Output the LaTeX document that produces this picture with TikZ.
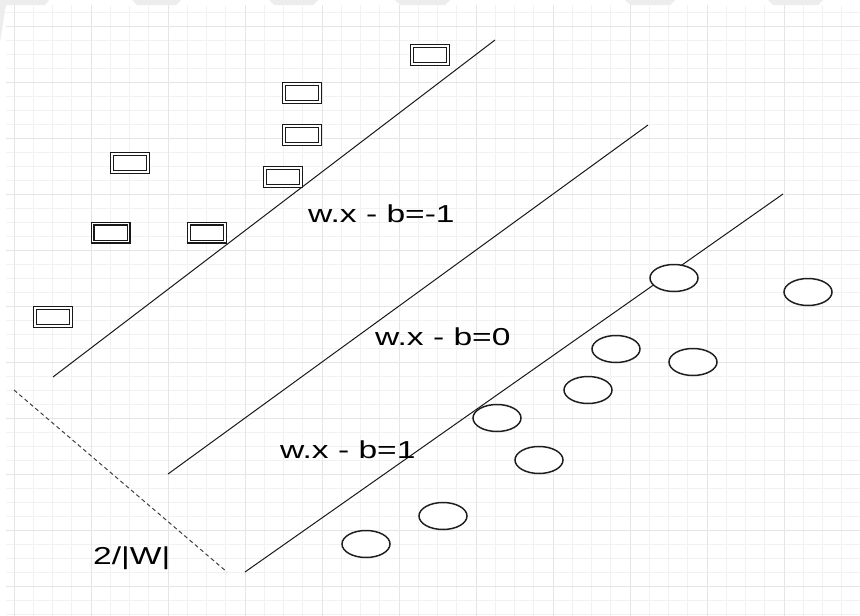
\documentclass[tikz,border=0pt]{standalone}
\usepackage{fontspec}
\setmainfont{Liberation Sans}
\usepackage{graphicx}
\usetikzlibrary{shapes.geometric}
\begin{document}
\begin{tikzpicture}[x=1pt,y=-1pt,
  sqbox/.style={draw=black!90, fill=white, line width=1.35pt, double=white, double distance=1.3pt, minimum width=36pt, minimum height=18pt, inner sep=0pt},
  ovalpt/.style={ellipse, draw=black!88, fill=white, line width=1.5pt, minimum width=48pt, minimum height=27pt, inner sep=0pt},
  sepline/.style={draw=black!90, line width=1pt},
  marginline/.style={draw=black!75, line width=1pt, dash pattern=on 4pt off 3pt},
  lbl/.style={inner sep=0pt, anchor=base west, font=\fontsize{24.5}{29}\selectfont, text=black},
  minorgrid/.style={draw=black!5, line width=0.8pt},
  majorgrid/.style={draw=black!10, line width=1pt},
  tabshape/.style={fill=black!7}]

\useasboundingbox (0,0) rectangle (860,616);
\fill[white] (0,0) rectangle (860,616);

% top chrome tabs
\foreach \a/\b in {132/181, 269/318, 395/450, 625/675, 768/823}
  \fill[tabshape] (\a,0) -- (\b,0) -- (\b-5,5) -- (\a+5,5) -- cycle;
\fill[tabshape] (0,0) -- (49,0) -- (45,5) -- (6,5) -- (0,42) -- cycle;

% background grid
\foreach \i in {0,...,43}
  \draw[minorgrid] ({14+19.25*\i},5) -- ({14+19.25*\i},616);
\foreach \j in {0,...,43}
  \draw[minorgrid] (6,{12+14*\j}) -- (860,{12+14*\j});
\foreach \i in {0,...,11}
  \draw[majorgrid] ({14+77*\i},5) -- ({14+77*\i},616);
\foreach \j in {0,...,10}
  \draw[majorgrid] (6,{26+56*\j}) -- (860,{26+56*\j});

% separating lines
\coordinate (m1a) at (53,377);  \coordinate (m1b) at (495,40);
\coordinate (h0a) at (168,474); \coordinate (h0b) at (648,125);
\coordinate (p1a) at (245,572); \coordinate (p1b) at (783,194);
\coordinate (da) at (14,390);   \coordinate (db) at (227,572);
\draw[sepline] (m1a) -- (m1b);
\draw[sepline] (h0a) -- (h0b);
\draw[sepline] (p1a) -- (p1b);
\draw[marginline] (da) -- (db);

% class -1 : rectangles
\node[sqbox] (r1) at (130,163) {};
\node[sqbox] (r2) at (110.5,232.5) {};
\node[sqbox] (r3) at (207,232.5) {};
\node[sqbox] (r4) at (283,177) {};
\node[sqbox] (r5) at (53,317) {};
\node[sqbox] (r6) at (302,135) {};
\node[sqbox] (r7) at (302,93) {};
\node[sqbox] (r8) at (430,55) {};

% class +1 : ellipses
\node[ovalpt] (e1) at (674,278) {};
\node[ovalpt] (e2) at (808,292) {};
\node[ovalpt] (e3) at (616,349) {};
\node[ovalpt] (e4) at (693,362) {};
\node[ovalpt] (e5) at (588,390) {};
\node[ovalpt] (e6) at (497,418) {};
\node[ovalpt] (e7) at (539,460) {};
\node[ovalpt] (e8) at (443,516) {};
\node[ovalpt] (e9) at (366,544) {};

% labels
\node[lbl] (lm1) at (308,222) {\scalebox{1.37}[1]{w.x - b=-1}};
\node[lbl] (l0)  at (375,345) {\scalebox{1.37}[1]{w.x - b=0}};
\node[lbl] (lp1) at (280,458) {\scalebox{1.37}[1]{w.x - b=1}};
\node[lbl] (lw)  at (93,564)  {\scalebox{1.37}[1]{2/|W|}};
\end{tikzpicture}
\end{document}
